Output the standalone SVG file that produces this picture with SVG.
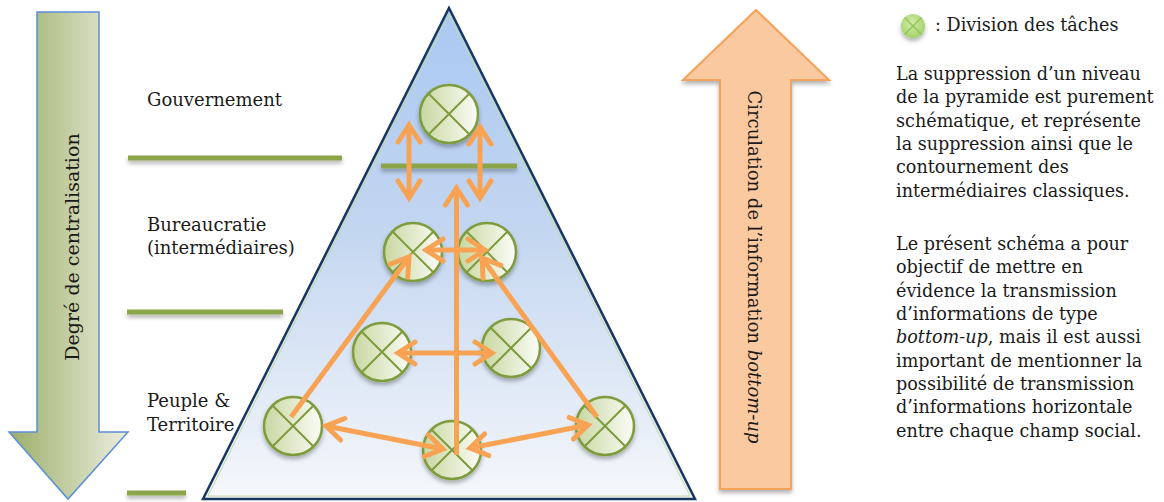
<svg xmlns="http://www.w3.org/2000/svg" width="1164" height="502" viewBox="0 0 1164 502">
  <defs>
    <style>
      .lbl { font-family: "DejaVu Serif", "Liberation Serif", serif; font-size: 18px; fill: #1a1a1a; }
      .note { font-family: "DejaVu Serif", "Liberation Serif", serif; font-size: 17.6px; fill: #1a1a1a; }
      .sep { stroke: #8ba54c; stroke-width: 5; fill: none; }
      .node-circle { fill: url(#nodeFill); stroke: #7e9c3c; stroke-width: 2.5; }
      .node-x { stroke: #7e9c3c; stroke-width: 2; }
      .flow { stroke: #f8a354; stroke-width: 5; fill: none; stroke-linecap: butt; }
    </style>
    <linearGradient id="pyramidFill" x1="0" y1="0" x2="0" y2="1">
      <stop offset="0" stop-color="#a9c8f3"/>
      <stop offset="0.45" stop-color="#c3d6f0"/>
      <stop offset="1" stop-color="#f5f7fb"/>
    </linearGradient>
    <linearGradient id="nodeFill" x1="0" y1="0" x2="1" y2="0">
      <stop offset="0" stop-color="#c8d7a1"/>
      <stop offset="1" stop-color="#fbfcf6"/>
    </linearGradient>
    <linearGradient id="downFill" x1="0" y1="0" x2="1" y2="0">
      <stop offset="0" stop-color="#9cae69"/>
      <stop offset="1" stop-color="#eceedf"/>
    </linearGradient>
    <radialGradient id="legendFill" cx="0.45" cy="0.4" r="0.6">
      <stop offset="0" stop-color="#d3ecaa"/>
      <stop offset="1" stop-color="#a3d16b"/>
    </radialGradient>
    <filter id="shadow" x="-20%" y="-20%" width="140%" height="150%">
      <feDropShadow dx="0" dy="3" stdDeviation="2" flood-color="#000" flood-opacity="0.3"/>
    </filter>
    <marker id="chevron" markerUnits="userSpaceOnUse" viewBox="-22 -14 26 28" refX="0" refY="0" markerWidth="26" markerHeight="28" orient="auto-start-reverse" overflow="visible">
      <path d="M-17,-11 L0,0 L-17,11" fill="none" stroke="#f8a354" stroke-width="5" stroke-linecap="round" stroke-linejoin="miter"/>
    </marker>
  </defs>

  <!-- centralisation arrow (downward) -->
  <g id="centralisation-arrow">
    <path d="M37,12 H99 V432 H128 L68,499 L9,432 H37 Z" fill="url(#downFill)" stroke="#5b8fd6" stroke-width="1.5"/>
    <text class="lbl" font-size="19" x="79" y="247" text-anchor="middle" transform="rotate(-90 79 247)" style="font-size:19px">Degré de centralisation</text>
  </g>

  <!-- information flow arrow (upward) -->
  <g id="information-arrow">
    <path d="M720,489 V80 H683 L756,10 L829,80 H791 V489 Z" fill="#fbc9a0" stroke="#f3a45a" stroke-width="2" filter="url(#shadow)"/>
    <text class="lbl" x="748" y="267" text-anchor="middle" transform="rotate(90 748 267)">Circulation de l’information <tspan font-style="italic">bottom-up</tspan></text>
  </g>

  <!-- pyramid -->
  <g id="pyramid">
    <polygon points="449,8 695,499 203,499" fill="url(#pyramidFill)" stroke="#17375e" stroke-width="2.5" stroke-linejoin="miter"/>
    <polygon points="449,14.7 690.1,496 207.9,496" fill="none" stroke="#c5d8a6" stroke-width="1"/>
  </g>

  <!-- level separators -->
  <g id="separators" filter="url(#shadow)">
    <line class="sep" x1="128" y1="158" x2="342" y2="158"/>
    <line class="sep" x1="381" y1="166" x2="517" y2="166"/>
    <line class="sep" x1="127" y1="312" x2="283" y2="312"/>
    <line class="sep" x1="127" y1="493" x2="186" y2="493"/>
  </g>

  <!-- level labels -->
  <g id="level-labels">
    <text class="lbl" x="147" y="106">Gouvernement</text>
    <text class="lbl" x="147" y="231">Bureaucratie</text>
    <text class="lbl" x="147" y="254">(intermédiaires)</text>
    <text class="lbl" x="147" y="407">Peuple &amp;</text>
    <text class="lbl" x="147" y="431">Territoire</text>
  </g>

  <!-- task-division nodes -->
  <g id="node-gov" transform="translate(449 114)" filter="url(#shadow)">
    <circle class="node-circle" r="29"/>
    <path class="node-x" d="M-20.5,-20.5 L20.5,20.5 M20.5,-20.5 L-20.5,20.5"/>
  </g>
  <g id="node-bur-left" transform="translate(413 252)" filter="url(#shadow)">
    <circle class="node-circle" r="29"/>
    <path class="node-x" d="M-20.5,-20.5 L20.5,20.5 M20.5,-20.5 L-20.5,20.5"/>
  </g>
  <g id="node-bur-right" transform="translate(487 252)" filter="url(#shadow)">
    <circle class="node-circle" r="29"/>
    <path class="node-x" d="M-20.5,-20.5 L20.5,20.5 M20.5,-20.5 L-20.5,20.5"/>
  </g>
  <g id="node-mid-left" transform="translate(382 352)" filter="url(#shadow)">
    <circle class="node-circle" r="29"/>
    <path class="node-x" d="M-20.5,-20.5 L20.5,20.5 M20.5,-20.5 L-20.5,20.5"/>
  </g>
  <g id="node-mid-right" transform="translate(511 348)" filter="url(#shadow)">
    <circle class="node-circle" r="29"/>
    <path class="node-x" d="M-20.5,-20.5 L20.5,20.5 M20.5,-20.5 L-20.5,20.5"/>
  </g>
  <g id="node-base-left" transform="translate(293 426)" filter="url(#shadow)">
    <circle class="node-circle" r="29"/>
    <path class="node-x" d="M-20.5,-20.5 L20.5,20.5 M20.5,-20.5 L-20.5,20.5"/>
  </g>
  <g id="node-base-center" transform="translate(452 450)" filter="url(#shadow)">
    <circle class="node-circle" r="29"/>
    <path class="node-x" d="M-20.5,-20.5 L20.5,20.5 M20.5,-20.5 L-20.5,20.5"/>
  </g>
  <g id="node-base-right" transform="translate(605 426)" filter="url(#shadow)">
    <circle class="node-circle" r="29"/>
    <path class="node-x" d="M-20.5,-20.5 L20.5,20.5 M20.5,-20.5 L-20.5,20.5"/>
  </g>

  <!-- information flows -->
  <g id="connectors">
    <line class="flow" x1="456.5" y1="455" x2="456.5" y2="188" marker-end="url(#chevron)"/>
    <line class="flow" x1="409" y1="198" x2="409" y2="125" marker-start="url(#chevron)" marker-end="url(#chevron)"/>
    <line class="flow" x1="480" y1="198" x2="480" y2="127" marker-start="url(#chevron)" marker-end="url(#chevron)"/>
    <line class="flow" x1="426" y1="250" x2="485" y2="250" marker-start="url(#chevron)" marker-end="url(#chevron)"/>
    <line class="flow" x1="398" y1="353" x2="492" y2="353" marker-start="url(#chevron)" marker-end="url(#chevron)"/>
    <line class="flow" x1="291" y1="417" x2="409" y2="257" marker-end="url(#chevron)"/>
    <line class="flow" x1="597" y1="417" x2="482" y2="258" marker-end="url(#chevron)"/>
    <line class="flow" x1="326" y1="426" x2="443" y2="449" marker-start="url(#chevron)" marker-end="url(#chevron)"/>
    <line class="flow" x1="470" y1="448" x2="588" y2="425" marker-start="url(#chevron)" marker-end="url(#chevron)"/>
  </g>

  <!-- legend and notes -->
  <g id="legend">
    <g transform="translate(913 26)" filter="url(#shadow)">
      <circle r="12" fill="url(#legendFill)"/>
      <path d="M-8.5,-8.5 L8.5,8.5 M8.5,-8.5 L-8.5,8.5" stroke="#93c45c" stroke-width="1.5"/>
    </g>
    <text class="note" x="935" y="31">: Division des tâches</text>
  </g>
  <g id="notes">
    <text class="note" x="896" y="80">La suppression d’un niveau</text>
    <text class="note" x="896" y="103.3">de la pyramide est purement</text>
    <text class="note" x="896" y="126.6">schématique, et représente</text>
    <text class="note" x="896" y="150">la suppression ainsi que le</text>
    <text class="note" x="896" y="173.3">contournement des</text>
    <text class="note" x="896" y="196.6">intermédiaires classiques.</text>
    <text class="note" x="896" y="250">Le présent schéma a pour</text>
    <text class="note" x="896" y="273.3">objectif de mettre en</text>
    <text class="note" x="896" y="296.6">évidence la transmission</text>
    <text class="note" x="896" y="320">d’informations de type</text>
    <text class="note" x="896" y="343.3"><tspan font-style="italic">bottom-up</tspan>, mais il est aussi</text>
    <text class="note" x="896" y="366.6">important de mentionner la</text>
    <text class="note" x="896" y="390">possibilité de transmission</text>
    <text class="note" x="896" y="413.3">d’informations horizontale</text>
    <text class="note" x="896" y="436.6">entre chaque champ social.</text>
  </g>
</svg>
